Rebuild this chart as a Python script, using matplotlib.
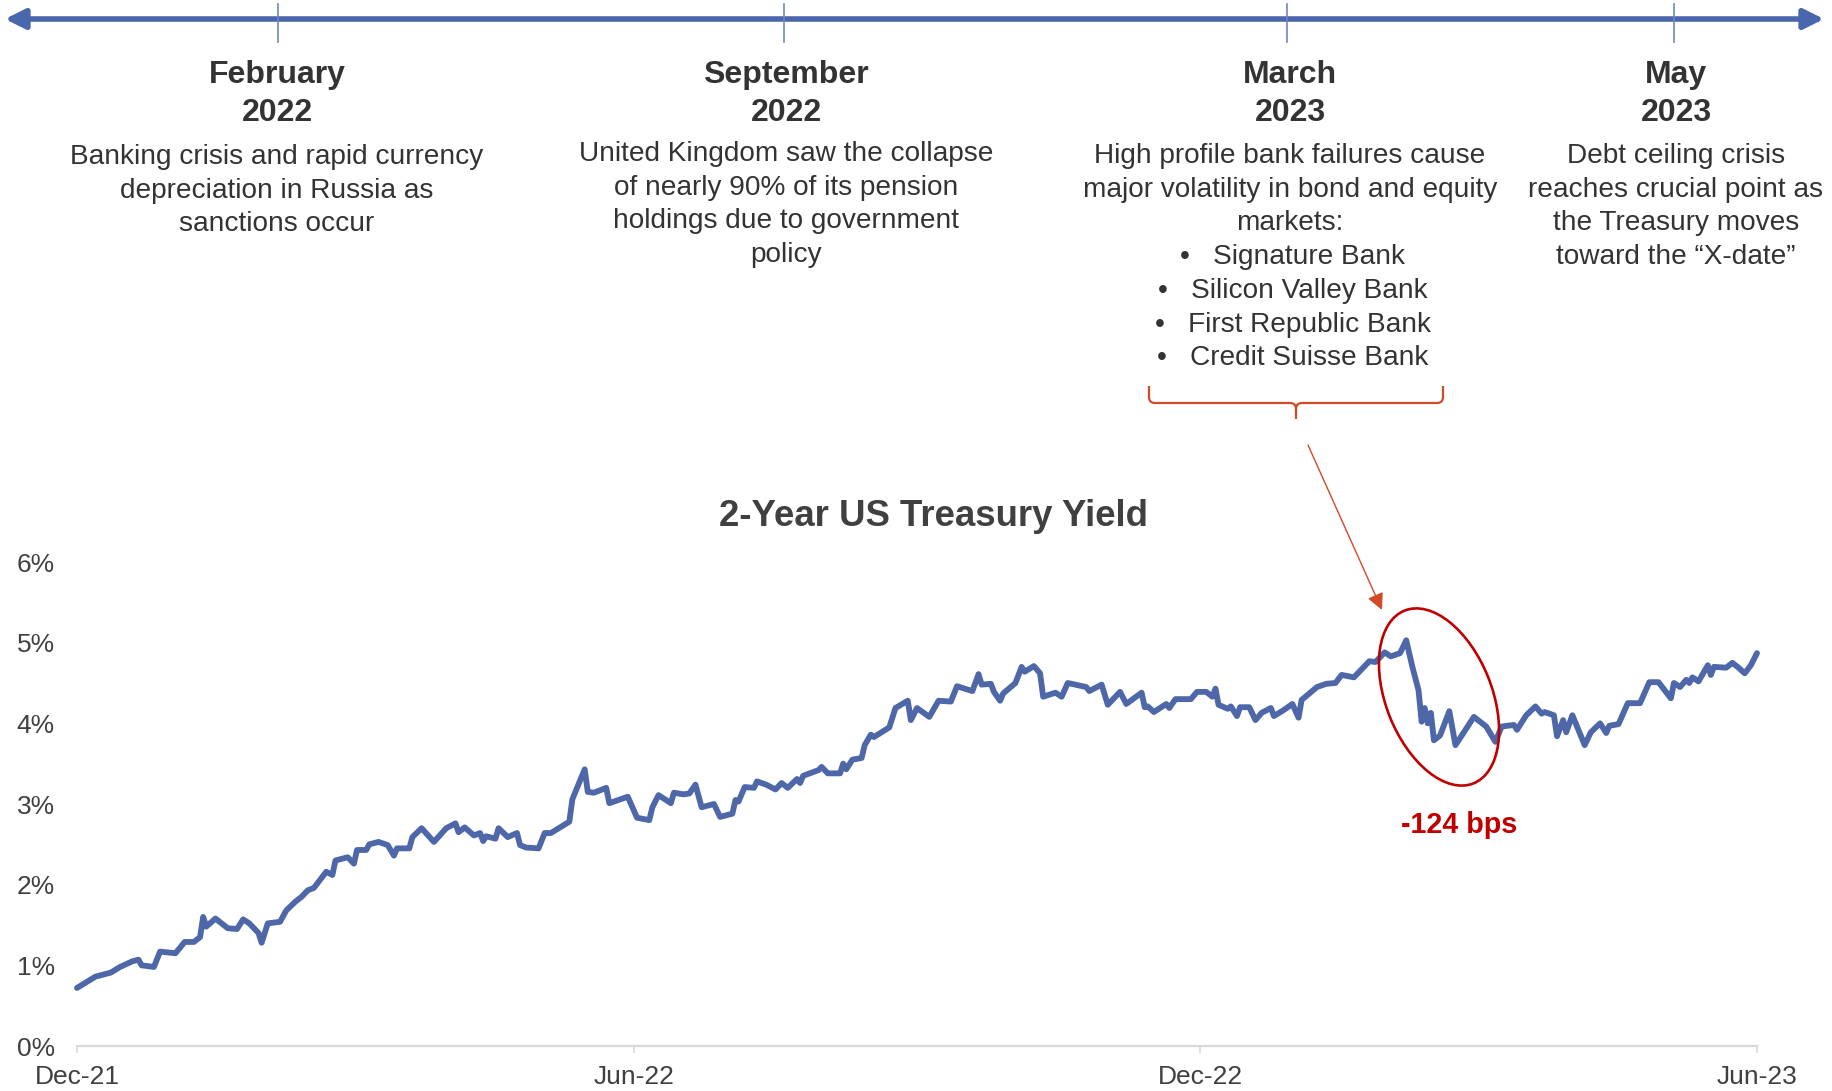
import matplotlib
matplotlib.use("Agg")
import pandas as pd
import matplotlib.pyplot as plt
from matplotlib.patches import Ellipse, FancyArrowPatch, PathPatch
from matplotlib.path import Path

plt.rcParams['font.family'] = ['Liberation Sans', 'DejaVu Sans']

# --- data -------------------------------------------------------------
start_date = "2021-12-31"

# days after start_date / 2-year yield (%)
days_2022_h1 = [0, 6, 11, 14, 18, 20, 21, 25, 27, 32, 35, 38, 40, 41, 42, 45, 49, 52, 54, 56,
                59, 60, 62, 66, 68, 71, 73, 75, 77, 81, 83, 84, 88, 90, 91, 94, 95, 98, 101, 103,
                104, 108, 109, 112, 116, 120, 123, 124, 126, 129, 131, 132, 133, 136, 137, 140,
                143, 144, 146, 150, 152, 154, 157, 160, 161, 165, 166, 168, 172, 173, 179]
yield_2022_h1 = [0.72, 0.86, 0.91, 0.98, 1.05, 1.07, 1.00, 0.98, 1.17, 1.15, 1.29, 1.29, 1.35, 1.60,
                 1.48, 1.58, 1.46, 1.45, 1.57, 1.52, 1.40, 1.28, 1.52, 1.54, 1.68, 1.79, 1.85, 1.93,
                 1.96, 2.16, 2.12, 2.30, 2.34, 2.26, 2.43, 2.43, 2.50, 2.53, 2.49, 2.36, 2.45, 2.45,
                 2.59, 2.70, 2.53, 2.70, 2.76, 2.65, 2.71, 2.61, 2.64, 2.54, 2.60, 2.57, 2.70, 2.59,
                 2.64, 2.49, 2.46, 2.45, 2.64, 2.64, 2.71, 2.78, 3.06, 3.43, 3.15, 3.14, 3.20, 3.01,
                 3.09]

days_2022_h2 = [182, 186, 187, 189, 193, 194, 197, 199, 201, 203, 207, 209, 213, 214, 215, 217,
                220, 221, 224, 227, 229, 231, 234, 235, 236, 241, 242, 244, 248, 249, 250, 252,
                255, 256, 258, 259, 264, 266, 270, 271, 273, 277, 280, 284, 286, 291, 293, 294,
                297, 298, 300, 301, 305, 307, 308, 311, 313, 314, 318, 320, 322, 328, 329, 333,
                335, 339, 341, 346, 347, 348, 350, 354, 355, 357, 362, 364]
yield_2022_h2 = [2.83, 2.80, 2.96, 3.11, 3.01, 3.14, 3.12, 3.13, 3.24, 2.96, 3.00, 2.84, 2.88, 3.05,
                 3.03, 3.21, 3.20, 3.28, 3.24, 3.18, 3.26, 3.20, 3.31, 3.26, 3.35, 3.42, 3.46, 3.38,
                 3.38, 3.50, 3.43, 3.55, 3.57, 3.73, 3.86, 3.83, 3.95, 4.19, 4.28, 4.04, 4.19, 4.08,
                 4.28, 4.27, 4.46, 4.40, 4.61, 4.48, 4.49, 4.39, 4.28, 4.37, 4.50, 4.70, 4.64, 4.71,
                 4.62, 4.33, 4.38, 4.33, 4.50, 4.45, 4.40, 4.48, 4.23, 4.39, 4.24, 4.38, 4.20, 4.21,
                 4.14, 4.24, 4.19, 4.30, 4.30, 4.39]

days_2023_h1 = [367, 369, 370, 371, 374, 375, 377, 378, 381, 383, 385, 388, 389, 392, 395, 397,
                398, 403, 406, 409, 411, 415, 417, 420, 422, 425, 427, 430, 432, 434, 436, 437,
                438, 439, 440, 441, 443, 446, 448, 454, 458, 461, 463, 467, 468, 471, 474, 476,
                477, 480, 481, 483, 484, 486, 490, 492, 495, 497, 498, 501, 504, 508, 511, 514,
                518, 519, 521, 523, 524, 525, 527, 530, 531, 532, 536, 538, 540, 542, 544, 546]
yield_2023_h1 = [4.39, 4.33, 4.43, 4.23, 4.18, 4.21, 4.09, 4.20, 4.20, 4.04, 4.13, 4.19, 4.09, 4.16,
                 4.24, 4.07, 4.29, 4.45, 4.49, 4.50, 4.60, 4.57, 4.65, 4.77, 4.76, 4.88, 4.83, 4.87,
                 5.03, 4.70, 4.41, 4.02, 4.19, 4.00, 4.13, 3.79, 3.85, 4.15, 3.73, 4.08, 3.96, 3.77,
                 3.96, 3.98, 3.92, 4.10, 4.21, 4.12, 4.14, 4.10, 3.84, 4.04, 3.89, 4.10, 3.73, 3.89,
                 4.00, 3.88, 3.97, 3.99, 4.25, 4.25, 4.51, 4.51, 4.31, 4.50, 4.45, 4.54, 4.50, 4.57,
                 4.52, 4.72, 4.60, 4.70, 4.69, 4.75, 4.69, 4.62, 4.72, 4.87]

tick_dates = ["2021-12-31", "2022-06-30", "2022-12-31", "2023-06-30"]
tick_labels = ["Dec-21", "Jun-22", "Dec-22", "Jun-23"]
y_ticks = [0, 1, 2, 3, 4, 5, 6]

event_titles = ["February\n2022", "September\n2022", "March\n2023", "May\n2023"]
event_lines = [
    ["Banking crisis and rapid currency", "depreciation in Russia as", "sanctions occur"],
    ["United Kingdom saw the collapse", "of nearly 90% of its pension",
     "holdings due to government", "policy"],
    ["High profile bank failures cause", "major volatility in bond and equity", "markets:",
     "\u2022   Signature Bank", "\u2022   Silicon Valley Bank", "\u2022   First Republic Bank",
     "\u2022   Credit Suisse Bank"],
    ["Debt ceiling crisis", "reaches crucial point as", "the Treasury moves",
     "toward the \u201cX-date\u201d"],
]
drop_label = "-124 bps"
chart_title = "2-Year US Treasury Yield"

# --- layout (figure pixels, y down) -----------------------------------
W, H = 1833, 1091
timeline_ticks = [278, 784, 1287, 1674]
event_x = [277, 786, 1290, 1676]
event_body_top = [164, 161, 163, 163]

LINE_BLUE = "#4D67A9"
TEXT = "#333333"
ORANGE = "#D24A28"
RED = "#C00000"

fig = plt.figure(figsize=(W / 100, H / 100), dpi=100)

# main chart
ax = fig.add_axes([77 / W, (H - 1046) / H, 1680 / W, 484 / H])
t0 = pd.Timestamp(start_date)
days = days_2022_h1 + days_2022_h2 + days_2023_h1
yields = yield_2022_h1 + yield_2022_h2 + yield_2023_h1
dates = [t0 + pd.Timedelta(days=d) for d in days]
ax.plot(dates, yields, color=LINE_BLUE, lw=4.2, solid_joinstyle="round",
        solid_capstyle="round", clip_on=False)

ax.set_xlim(pd.Timestamp(tick_dates[0]), pd.Timestamp(tick_dates[-1]))
ax.set_ylim(0, 6)
ax.set_xticks([pd.Timestamp(d) for d in tick_dates])
ax.set_xticklabels(tick_labels)
ax.set_yticks(y_ticks)
ax.set_yticklabels([f"{v}%" for v in y_ticks])
for s in ("top", "right", "left"):
    ax.spines[s].set_visible(False)
ax.spines["bottom"].set_color("#D9D9D9")
ax.spines["bottom"].set_linewidth(1.6)
ax.tick_params(axis="x", length=5, width=1.2, color="#D9D9D9", pad=8.5,
               labelsize=19, labelcolor="#404040")
ax.tick_params(axis="y", length=0, pad=16, labelsize=19, labelcolor="#404040")
ax.patch.set_alpha(0)

# overlay in pixel coordinates for the timeline and callouts
ov = fig.add_axes([0, 0, 1, 1], zorder=5)
ov.set_xlim(0, W)
ov.set_ylim(H, 0)
ov.axis("off")

ov.add_patch(FancyArrowPatch((5, 19), (1824, 19),
                             arrowstyle="<|-|>,head_length=12,head_width=6",
                             mutation_scale=1, lw=4, color="#4A66AC",
                             shrinkA=0, shrinkB=0))
for x in timeline_ticks:
    ov.plot([x, x], [4, 42], color="#6F86C4", lw=1.2)

for x, title, lines, top in zip(event_x, event_titles, event_lines, event_body_top):
    for i, h in enumerate(title.split("\n")):
        ov.text(x, 83 + 38 * i, h, ha="center", va="baseline", fontsize=23,
                fontweight="bold", color=TEXT)
    for i, line in enumerate(lines):
        ov.text(x + (3 if line.startswith("\u2022") else 0), top + 33.7 * i, line,
                ha="center", va="baseline", fontsize=20.2, color=TEXT)

# bracket under bank list
verts = [(1149, 386), (1149, 397), (1149, 403), (1155, 403), (1290, 403), (1296, 403),
         (1296, 409), (1296, 419), (1296, 409), (1296, 403), (1302, 403), (1437, 403),
         (1443, 403), (1443, 397), (1443, 386)]
codes = [Path.MOVETO, Path.LINETO, Path.CURVE3, Path.CURVE3, Path.LINETO, Path.CURVE3,
         Path.CURVE3, Path.LINETO, Path.MOVETO, Path.CURVE3, Path.CURVE3, Path.LINETO,
         Path.CURVE3, Path.CURVE3, Path.LINETO]
ov.add_patch(PathPatch(Path(verts, codes), fill=False, edgecolor=ORANGE, lw=1.6))

ov.add_patch(FancyArrowPatch((1308, 445), (1382, 610),
                             arrowstyle="-|>,head_length=10,head_width=5",
                             mutation_scale=1, lw=1.0, color=ORANGE,
                             shrinkA=0, shrinkB=0))

ov.add_patch(Ellipse((1439, 697), 106, 186, angle=-21.7, fill=False,
                     edgecolor=RED, lw=1.9))
ov.text(1459, 833, drop_label, ha="center", va="baseline", fontsize=20.7,
        fontweight="bold", color=RED)

ov.text(934, 526, chart_title, ha="center", va="baseline", fontsize=26.4,
        fontweight="bold", color="#404040")

fig.savefig("out.png", dpi=100, facecolor="white")
